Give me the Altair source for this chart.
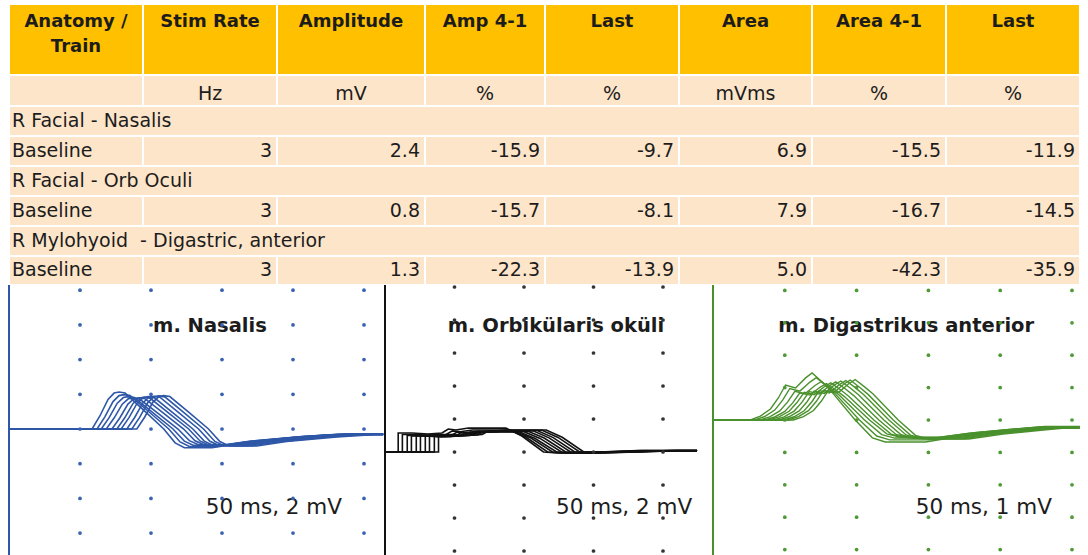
import altair as alt
import pandas as pd

# ---------------- table content ----------------
HEADERS = ["Anatomy /\nTrain", "Stim Rate", "Amplitude", "Amp 4-1", "Last", "Area", "Area 4-1", "Last"]
UNITS = ["", "Hz", "mV", "%", "%", "mVms", "%", "%"]
SITES = ["R Facial - Nasalis", "R Facial - Orb Oculi", "R Mylohyoid\u00a0 - Digastric, anterior"]
TRAINS = ["Baseline", "Baseline", "Baseline"]
STIM_RATE = [3, 3, 3]
AMPLITUDE = [2.4, 0.8, 1.3]
AMP_4_1 = [-15.9, -15.7, -22.3]
AMP_LAST = [-9.7, -8.1, -13.9]
AREA = [6.9, 7.9, 5.0]
AREA_4_1 = [-15.5, -16.7, -42.3]
AREA_LAST = [-11.9, -14.5, -35.9]

# ---------------- repetitive stimulation traces ----------------
# each train: 10 responses, shifted in time (onset) and scaled (decrement)
NAS_ONSET_MS = [11.7, 12.4, 13.0, 13.7, 14.5, 15.2, 15.8, 16.6, 17.3, 18.0]
NAS_SCALE = [1.0, 0.93, 0.875, 0.841, 0.845, 0.86, 0.875, 0.885, 0.895, 0.903]
NAS_SHAPE_MS = [0, 1.1, 2.25, 3.1, 3.8, 4.65, 7.3, 10.1, 11.7, 13.0, 16.9, 21.1, 28.2, 33.8]
NAS_SHAPE_MV = [0, 0.75, 1.70, 2.07, 2.13, 2.07, 1.07, 0.0, -0.80, -1.08, -1.08, -0.80, -0.50, -0.34]
NAS_SWEEP_MS = 52.7

ORB_ONSET_MS = [1.9, 2.5, 3.2, 3.8, 4.5, 5.1, 5.8, 6.4, 7.1, 7.7]
ORB_SCALE = [1.0, 0.92, 0.87, 0.843, 0.85, 0.87, 0.885, 0.9, 0.91, 0.919]
ORB_SHAPE_MS = [0, 0, 2.0, 4.3, 6.3, 7.2, 8.3, 10.1, 15.5, 17.8, 20.9, 23.0, 28.8, 34.5]
ORB_SHAPE_MV = [0, 1.15, 1.15, 1.09, 1.15, 1.39, 1.33, 1.45, 1.45, 0.97, 0.0, -0.06, 0.0, 0.09]
ORB_SWEEP_MS = 44.9

DIG_ONSET_MS = [5.2, 5.8, 6.5, 7.2, 7.8, 8.5, 9.2, 9.9, 10.5, 11.2]
DIG_SCALE = [1.0, 0.9, 0.82, 0.777, 0.79, 0.81, 0.83, 0.84, 0.85, 0.861]
DIG_SHAPE_MS = [0, 1.4, 2.8, 3.9, 4.9, 6.3, 7.7, 8.6, 10.0, 11.1, 14.6, 17.0, 18.8, 24.4, 29.2, 34.8, 39.0]
DIG_SHAPE_MV = [0, 0.12, 0.34, 0.68, 1.08, 0.99, 1.30, 1.45, 1.17, 0.93, 0.0, -0.55, -0.68, -0.68, -0.50, -0.36, -0.26]
DIG_SWEEP_MS = 51.1

PANEL_TITLES = ["m. Nasalis", "m. Orbikülaris oküli", "m. Digastrikus anterior"]
PANEL_SCALES = ["50 ms, 2 mV", "50 ms, 2 mV", "50 ms, 1 mV"]

# ---------------- styling / layout ----------------
FONT = "DejaVu Sans"
TEXT_COLOR = "#1c1c1c"
HEADER_FILL = "#FFC000"
BODY_FILL = "#FDE5CA"
TABLE_W, TABLE_H = 1088, 285
LEFT = 9
COL_W = [134, 134, 148, 120, 134, 133, 134, 134]
TOP = 4
ROW_H = [71, 31, 30, 30, 30, 30, 30, 29]
PANEL_H = 270


def edges(start, sizes):
    out = [start]
    for s in sizes:
        out.append(out[-1] + s)
    return out


cx = edges(LEFT, COL_W)
ry = edges(TOP, ROW_H)

cells, header_txt, center_txt, left_txt, right_txt = [], [], [], [], []
for c in range(8):
    cells.append({"x0": cx[c], "x1": cx[c + 1], "y0": ry[0], "y1": ry[1], "fill": HEADER_FILL})
    header_txt.append({"x": (cx[c] + cx[c + 1]) / 2, "y": ry[0] + 23, "text": HEADERS[c]})
    cells.append({"x0": cx[c], "x1": cx[c + 1], "y0": ry[1], "y1": ry[2], "fill": BODY_FILL})
    center_txt.append({"x": (cx[c] + cx[c + 1]) / 2, "y": ry[2] - 6.5, "text": UNITS[c]})

for i in range(3):
    r_site, r_train = 2 + 2 * i, 3 + 2 * i
    cells.append({"x0": cx[0], "x1": cx[-1], "y0": ry[r_site], "y1": ry[r_site + 1], "fill": BODY_FILL})
    left_txt.append({"x": cx[0] + 3, "y": ry[r_site + 1] - 9.5, "text": SITES[i]})
    values = [str(STIM_RATE[i]), f"{AMPLITUDE[i]:.1f}", f"{AMP_4_1[i]:.1f}", f"{AMP_LAST[i]:.1f}",
              f"{AREA[i]:.1f}", f"{AREA_4_1[i]:.1f}", f"{AREA_LAST[i]:.1f}"]
    for c in range(8):
        cells.append({"x0": cx[c], "x1": cx[c + 1], "y0": ry[r_train], "y1": ry[r_train + 1], "fill": BODY_FILL})
    left_txt.append({"x": cx[0] + 3, "y": ry[r_train + 1] - 9.5, "text": TRAINS[i]})
    for c, v in enumerate(values, start=1):
        right_txt.append({"x": cx[c + 1] - 5, "y": ry[r_train + 1] - 9.5, "text": v})

tx = alt.Scale(domain=[0, TABLE_W], nice=False, zero=False)
ty = alt.Scale(domain=[0, TABLE_H], nice=False, zero=False, reverse=True)

rects = alt.Chart(pd.DataFrame(cells)).mark_rect(stroke="white", strokeWidth=2).encode(
    x=alt.X("x0:Q", scale=tx, axis=None), x2="x1:Q",
    y=alt.Y("y0:Q", scale=ty, axis=None), y2="y1:Q",
    fill=alt.Fill("fill:N", scale=None),
)


def text_layer(rows, **kw):
    return alt.Chart(pd.DataFrame(rows)).mark_text(font=FONT, color=TEXT_COLOR, baseline="alphabetic", **kw).encode(
        x=alt.X("x:Q", scale=tx, axis=None), y=alt.Y("y:Q", scale=ty, axis=None), text="text:N")


table = alt.layer(
    rects,
    text_layer(header_txt, fontSize=18, fontWeight="bold", align="center", lineBreak="\n", lineHeight=25),
    text_layer(center_txt, fontSize=19, align="center"),
    text_layer(left_txt, fontSize=19, align="left"),
    text_layer(right_txt, fontSize=19, align="right"),
).properties(width=TABLE_W, height=TABLE_H)


def build_traces(onsets, scales, shape_t, shape_v, sweep_end):
    rows = []
    for k, (t0, s) in enumerate(zip(onsets, scales)):
        pts = [(0.0, 0.0)] + [(t0 + dt, s * v) for dt, v in zip(shape_t, shape_v)] + [(sweep_end, s * shape_v[-1])]
        for j, (t, v) in enumerate(pts):
            rows.append({"trace": k, "seq": j, "t": t, "v": v})
    return pd.DataFrame(rows)


PANELS = [
    dict(width=385, origin_px=9, px_per_ms=7.1, zero_px=144, px_per_mv=17.35,
         color="#2E57A7", dot="#3A62B2", stroke=1.6,
         traces=build_traces(NAS_ONSET_MS, NAS_SCALE, NAS_SHAPE_MS, NAS_SHAPE_MV, NAS_SWEEP_MS),
         grid_ms=[10, 20, 30, 40, 50], grid_mv=[-6, -4, -2, 0, 2, 4, 6, 8],
         title_at=(28.3, 5.6), label_at=(46.9, -4.9)),
    dict(width=328, origin_px=0, px_per_ms=6.95, zero_px=167, px_per_mv=16.5,
         color="#111111", dot="#333333", stroke=1.6,
         traces=build_traces(ORB_ONSET_MS, ORB_SCALE, ORB_SHAPE_MS, ORB_SHAPE_MV, ORB_SWEEP_MS),
         grid_ms=[10, 20, 30, 40], grid_mv=[-6, -4, -2, 0, 2, 4, 6, 8, 10],
         title_at=(24.6, 7.27), label_at=(44.2, -3.76)),
    dict(width=375, origin_px=0, px_per_ms=7.18, zero_px=135, px_per_mv=32.4,
         color="#4A912D", dot="#4F9A35", stroke=1.4,
         traces=build_traces(DIG_ONSET_MS, DIG_SCALE, DIG_SHAPE_MS, DIG_SHAPE_MV, DIG_SWEEP_MS),
         grid_ms=[10, 20, 30, 40, 50], grid_mv=[-4, -3, -2, -1, 0, 1, 2, 3, 4],
         title_at=(26.9, 2.72), label_at=(47.2, -2.9)),
]


def panel(cfg, title, scale_label):
    ppm, ppv = cfg["px_per_ms"], cfg["px_per_mv"]
    xs = alt.Scale(domain=[-cfg["origin_px"] / ppm, (cfg["width"] - cfg["origin_px"]) / ppm], nice=False, zero=False)
    ys = alt.Scale(domain=[-(PANEL_H - cfg["zero_px"]) / ppv, cfg["zero_px"] / ppv], nice=False, zero=False)
    X = lambda f: alt.X(f, scale=xs, axis=None)
    Y = lambda f: alt.Y(f, scale=ys, axis=None)

    border = alt.Chart(pd.DataFrame({"t": [0.0]})).mark_rule(color=cfg["color"], strokeWidth=2).encode(x=X("t:Q"))
    lines = alt.Chart(cfg["traces"]).mark_line(color=cfg["color"], strokeWidth=cfg["stroke"], clip=True).encode(
        x=X("t:Q"), y=Y("v:Q"), detail="trace:N", order="seq:Q")
    grid = pd.DataFrame([{"t": t, "v": v} for t in cfg["grid_ms"] for v in cfg["grid_mv"]])
    dots = alt.Chart(grid).mark_circle(size=14, color=cfg["dot"], opacity=1).encode(x=X("t:Q"), y=Y("v:Q"))
    ttl = alt.Chart(pd.DataFrame([{"t": cfg["title_at"][0], "v": cfg["title_at"][1], "text": title}])).mark_text(
        font=FONT, fontSize=19.5, fontWeight="bold", color=TEXT_COLOR, align="center", baseline="alphabetic").encode(
        x=X("t:Q"), y=Y("v:Q"), text="text:N")
    lab = alt.Chart(pd.DataFrame([{"t": cfg["label_at"][0], "v": cfg["label_at"][1], "text": scale_label}])).mark_text(
        font=FONT, fontSize=21.5, color=TEXT_COLOR, align="right", baseline="alphabetic").encode(
        x=X("t:Q"), y=Y("v:Q"), text="text:N")
    return alt.layer(border, lines, ttl, lab, dots).properties(width=cfg["width"], height=PANEL_H)


panels = alt.hconcat(*[panel(c, t, s) for c, t, s in zip(PANELS, PANEL_TITLES, PANEL_SCALES)],
                     spacing=0, bounds="flush")

chart = alt.vconcat(table, panels, spacing=0, bounds="flush").properties(
    padding=0, background="white").configure_view(strokeWidth=0)

chart.save("out.html", embed_options={"renderer": "svg", "actions": False})
